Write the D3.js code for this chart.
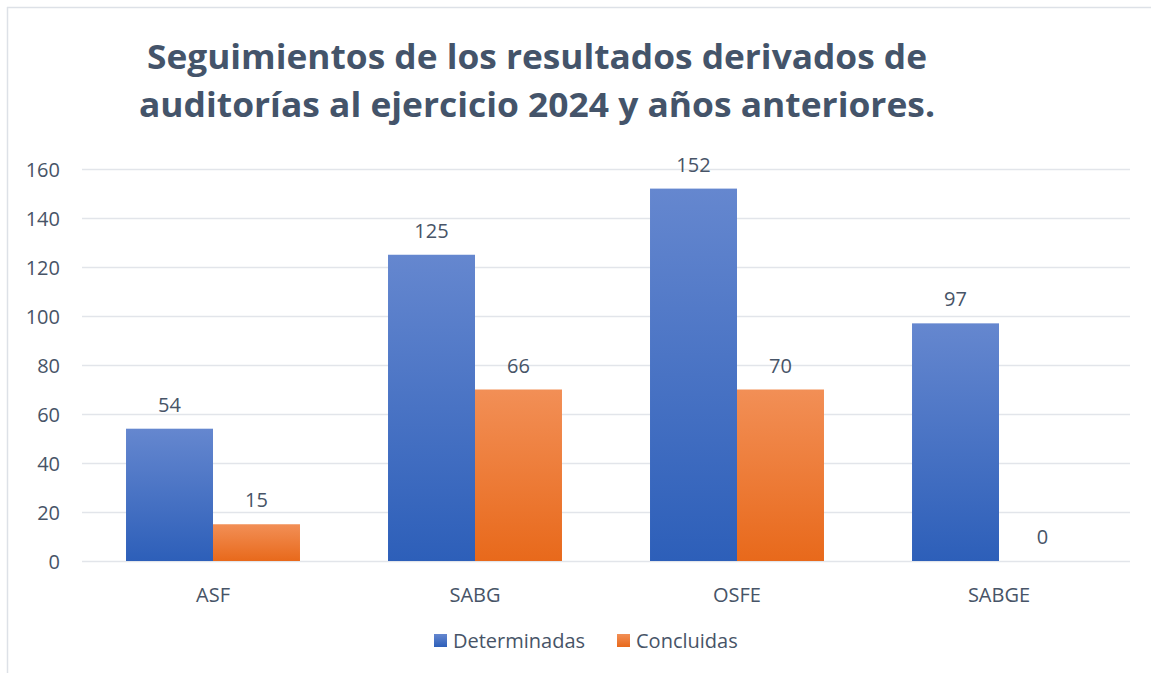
<!DOCTYPE html>
<html>
<head>
<meta charset="utf-8">
<script src="https://cdn.jsdelivr.net/npm/d3@7"></script>
<style>
	body { margin: 0; background: #fff; }
	#chart { width: 1151px; height: 673px; }
	text { font-family: "Open Sans", "Noto Sans", sans-serif; }
</style>
</head>
<body>
<div id="chart"></div>
<script>
// Chart data
const categories = ["ASF", "SABG", "OSFE", "SABGE"]
const seriesNames = ["Determinadas", "Concluidas"]
const determinadas = [54, 125, 152, 97]
const concluidas = [15, 70, 70, 0]
// labels as printed on the chart
const determinadasLabels = ["54", "125", "152", "97"]
const concluidasLabels = ["15", "66", "70", "0"]
const yTicks = [0, 20, 40, 60, 80, 100, 120, 140, 160]
const titleLines = [
	"Seguimientos de los resultados derivados de",
	"auditorías al ejercicio 2024 y años anteriores.",
]

function renderChart() {
	const W = 1151
	const H = 673
	const margin = { top: 169, right: 21, bottom: 112, left: 82 }
	const width = W - margin.left - margin.right
	const height = H - margin.top - margin.bottom

	const textColor = "#475467"
	const gridColor = "#e2e5ea"
	const labelSize = "20px"

	const svg = d3
		.select("#chart")
		.append("svg")
		.attr("width", W)
		.attr("height", H)

	// Gradients for bars
	const defs = svg.append("defs")
	const gradients = [
		{ id: "grad-blue", top: "#6587cf", bottom: "#2d5fb9" },
		{ id: "grad-orange", top: "#f28f56", bottom: "#e8691b" },
	]
	gradients.forEach((g) => {
		const lg = defs
			.append("linearGradient")
			.attr("id", g.id)
			.attr("x1", 0)
			.attr("y1", 0)
			.attr("x2", 0)
			.attr("y2", 1)
		lg.append("stop").attr("offset", "0%").attr("stop-color", g.top)
		lg.append("stop").attr("offset", "100%").attr("stop-color", g.bottom)
	})

	// Chart border (top and left visible)
	svg.append("line")
		.attr("x1", 7).attr("x2", W)
		.attr("y1", 7.5).attr("y2", 7.5)
		.style("stroke", "#dde1e7")
		.style("stroke-width", 1.5)
	svg.append("line")
		.attr("x1", 7.5).attr("x2", 7.5)
		.attr("y1", 7).attr("y2", H)
		.style("stroke", "#dde1e7")
		.style("stroke-width", 1.5)

	// Title
	const titleWidths = [780, 796]
	svg.append("g")
		.selectAll("text")
		.data(titleLines)
		.join("text")
		.attr("x", 537)
		.attr("y", (d, i) => 69 + i * 48)
		.attr("text-anchor", "middle")
		.attr("textLength", (d, i) => titleWidths[i])
		.attr("lengthAdjust", "spacingAndGlyphs")
		.style("font-size", "34px")
		.style("font-weight", "bold")
		.style("fill", "#44546a")
		.text((d) => d)

	const g = svg
		.append("g")
		.attr("transform", `translate(${margin.left},${margin.top})`)

	// Scales
	const x0 = d3.scaleBand().domain(categories).range([0, width]).padding(0)
	const step = x0.bandwidth()
	const x1 = d3
		.scaleBand()
		.domain(seriesNames)
		.range([step * 0.168, step * 0.832])
		.padding(0)

	const y = d3.scaleLinear().domain([0, 160]).range([height, 0])

	// Gridlines
	g.append("g")
		.attr("class", "grid")
		.call(d3.axisLeft(y).tickValues(yTicks).tickSize(-width).tickFormat(""))
		.call((s) => s.select(".domain").remove())
		.call((s) =>
			s.selectAll("line").style("stroke", gridColor).style("stroke-width", 1.5)
		)

	// Y axis labels
	g.append("g")
		.attr("class", "y-axis")
		.call(d3.axisLeft(y).tickValues(yTicks).tickSize(0).tickPadding(22))
		.call((s) => s.select(".domain").remove())
		.call((s) =>
			s.selectAll("text")
				.style("font-size", labelSize)
				.style("font-family", "'Open Sans', sans-serif")
				.style("fill", textColor)
				.attr("dy", "0.35em")
		)

	// X axis labels
	g.append("g")
		.attr("class", "x-axis")
		.attr("transform", `translate(0,${height})`)
		.call(d3.axisBottom(x0).tickSize(0).tickPadding(27))
		.call((s) => s.select(".domain").remove())
		.call((s) =>
			s.selectAll("text")
				.style("font-size", labelSize)
				.style("font-family", "'Open Sans', sans-serif")
				.style("fill", textColor)
		)

	// Bars
	const series = [
		{ name: "Determinadas", values: determinadas, labels: determinadasLabels, fill: "url(#grad-blue)" },
		{ name: "Concluidas", values: concluidas, labels: concluidasLabels, fill: "url(#grad-orange)" },
	]

	series.forEach((s) => {
		const rows = categories.map((c, i) => ({ cat: c, value: s.values[i], label: s.labels[i] }))

		g.append("g")
			.selectAll("rect")
			.data(rows)
			.join("rect")
			.attr("x", (d) => x0(d.cat) + x1(s.name))
			.attr("y", (d) => y(d.value))
			.attr("width", x1.bandwidth())
			.attr("height", (d) => height - y(d.value))
			.attr("fill", s.fill)

		g.append("g")
			.selectAll("text")
			.data(rows)
			.join("text")
			.attr("x", (d) => x0(d.cat) + x1(s.name) + x1.bandwidth() / 2)
			.attr("y", (d) => y(d.value) - 17)
			.attr("text-anchor", "middle")
			.style("font-size", labelSize)
			.style("fill", textColor)
			.text((d) => d.label)
	})

	// Legend
	const legendData = [
		{ label: "Determinadas", fill: "url(#grad-blue)", x: 434 },
		{ label: "Concluidas", fill: "url(#grad-orange)", x: 617 },
	]
	const legend = svg.append("g").attr("class", "legend")
	legendData.forEach((d) => {
		const row = legend.append("g").attr("transform", `translate(${d.x},634)`)
		row.append("rect")
			.attr("width", 13)
			.attr("height", 13)
			.attr("fill", d.fill)
		row.append("text")
			.attr("x", 19)
			.attr("y", 14)
			.style("font-size", labelSize)
			.style("fill", textColor)
			.text(d.label)
	})
}

renderChart()
</script>
</body>
</html>
